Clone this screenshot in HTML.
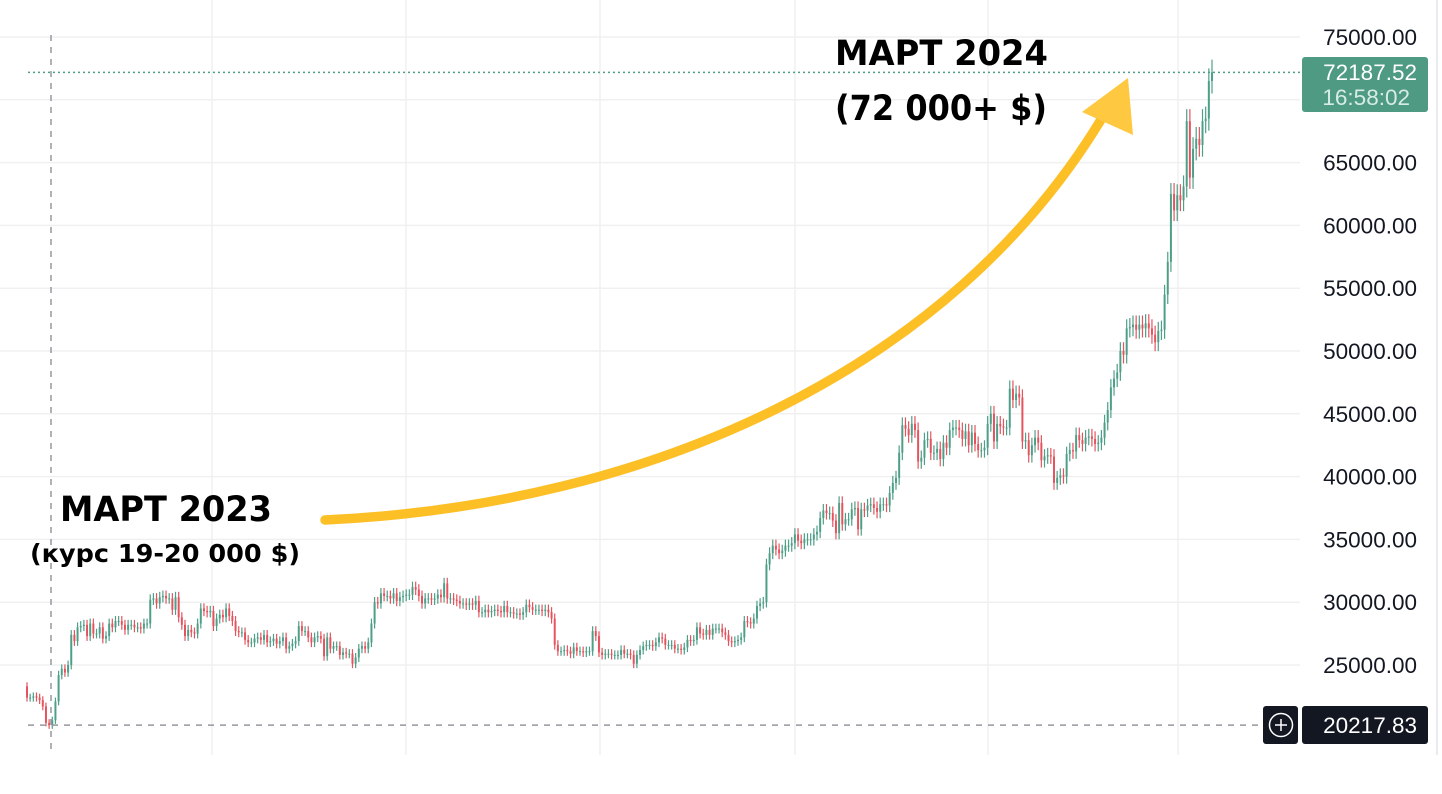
<!DOCTYPE html>
<html><head><meta charset="utf-8"><style>
html,body{margin:0;padding:0;background:#fff;}
svg{display:block;}
</style></head><body>
<svg id="chart" width="1442" height="794" viewBox="0 0 1442 794" xmlns="http://www.w3.org/2000/svg">
<g id="grid"></g>
<g id="candles"></g>
<g id="axis"></g>
<g id="overlay"></g>
</svg>
<script>
const yTicks = [25000,30000,35000,40000,45000,50000,55000,60000,65000,70000,75000];
const monthGridX = [212,406,600,795,988,1178];
const startOpen = 23300;
const closes = [
22400,22400,22500,22400,22200,21700,20400,20200,20600,22100,24200,24700,24400,25000,27400,26900,28000,28100,28200,27300,28300,27500,27500,28000,27100,27300,28300,28000,28500,
28500,28200,27800,28200,28200,28000,28000,27900,28300,28300,30200,30300,29900,30400,30500,30300,30300,29400,30400,28800,28200,27300,27800,27600,27500,28300,29500,29300,29200,29300,
28100,28700,29000,28800,29500,28900,28500,27700,27600,27600,27000,26800,26800,27100,27200,27000,27400,26800,26900,27100,26700,26900,27200,26300,26500,26700,26900,28100,27700,27700,27200,
26800,27200,27300,27100,25700,27200,26300,26500,26500,25800,26000,25900,25900,25100,25600,26300,26500,26300,26800,28300,30000,29900,30700,30500,30500,30300,30700,30100,30400,30500,
30600,30600,31200,31000,30500,29900,30300,30300,30200,30300,30600,30400,31500,30300,30300,30200,30100,29900,29900,29800,29900,29800,30100,29200,29200,29400,29200,29300,29400,29300,29200,
29700,29200,29200,29100,29100,29000,29200,29800,29600,29400,29400,29400,29300,29400,29200,28700,26600,26100,26100,26200,26100,25900,26400,26100,26100,26000,26100,26100,27700,27300,26000,
25800,25900,25900,25800,25800,25800,26200,25900,25900,25800,25100,25800,26200,26500,26600,26600,26500,26800,27200,27100,26600,26600,26600,26300,26300,26200,26400,27000,26900,27000,
28000,27500,27400,27800,27400,27900,27900,27900,27600,27400,26900,26800,26900,27000,27200,28500,28400,28300,28700,29700,29900,30000,33000,33900,34500,34200,33900,34100,34500,34500,34700,
35400,34900,34700,35000,35000,35000,35400,35600,36700,37300,37100,37100,36500,35500,37900,36200,36600,36600,37400,37500,35800,37400,37300,37700,37800,37500,37200,37800,37800,37700,
38700,39500,39900,41900,44100,43800,43300,44200,43700,41200,41500,42900,43000,41900,41900,42200,41400,42700,42300,43700,43900,43900,43700,43000,43600,42500,43500,42600,42100,42100,42300,
44200,45000,42800,44200,44000,43900,43900,47000,46100,46600,46300,42800,42900,41700,42500,43100,42700,41300,41600,41700,41600,39500,39900,40100,40000,41800,42100,42000,43300,42900,42600,
43100,43200,43000,42600,42700,43100,44300,45300,47100,47800,48300,50000,49700,51800,51900,52100,51700,52100,51800,52200,51800,51300,50700,51600,51700,54500,57100,62500,61200,
62400,62000,63100,68300,63800,66100,66900,66400,68300,68500,71500,72187.52
];
const lastPrice = "72187.52";
const lastTime = "16:58:02";
const crossPrice = 20217.83;

const NS="http://www.w3.org/2000/svg";
function el(tag, attrs, parent){const e=document.createElementNS(NS,tag);for(const k in attrs)e.setAttribute(k,attrs[k]);parent.appendChild(e);return e;}
const yScale = v => 37 + (75000 - v) / 5000 * 62.8;
const xScale = i => 27 + i * 3.16;

const grid=document.getElementById('grid');
yTicks.forEach(t=>{
  const l=el('line',{x1:0,x2:1300,y1:yScale(t),y2:yScale(t),stroke:'#f0f0f0','stroke-width':1.5},grid);
  
  
});
monthGridX.forEach(x=>{
  const l=el('line',{x1:x,x2:x,y1:0,y2:755,stroke:'#f0f0f0','stroke-width':1.5},grid);
  
  
});

const cg=document.getElementById('candles');
let prev=startOpen;
closes.forEach((c,i)=>{
  const o=prev; prev=c;
  const up=c>=o; const col=up?'#4e9f88':'#e4545f';
  const x=xScale(i);
  const hi=Math.max(o,c)*1.014, lo=Math.min(o,c)*0.986;
  const w=el('line',{x1:x,x2:x,y1:yScale(hi),y2:yScale(lo),stroke:col,'stroke-width':1.2},cg);
  
  
  const top=yScale(Math.max(o,c)), bot=yScale(Math.min(o,c));
  const b=el('rect',{x:x-1,y:top,width:2,height:Math.max(1,bot-top),fill:col},cg);
  
  
});

const ax=document.getElementById('axis');
el('line',{x1:1437,x2:1437,y1:0,y2:755,stroke:'#e0e3eb','stroke-width':1.5},ax);
yTicks.forEach(t=>{
  const tx=el('text',{x:1417,y:yScale(t)+8,'text-anchor':'end','font-family':'Liberation Sans, sans-serif','font-size':22.5,fill:'#131722'},ax);
  tx.textContent=t.toFixed(2);
  
  
});

const ov=document.getElementById('overlay');
el('line',{x1:51,x2:51,y1:35,y2:755,stroke:'#9598a1','stroke-width':1.5,'stroke-dasharray':'6 6'},ov);
const cy=yScale(crossPrice);
el('line',{x1:28,x2:1262,y1:cy,y2:cy,stroke:'#9598a1','stroke-width':1.5,'stroke-dasharray':'6 6'},ov);
const ly=yScale(72187.52);
el('line',{x1:28,x2:1300,y1:ly,y2:ly,stroke:'#4e9f88','stroke-width':1.5,'stroke-dasharray':'2 3'},ov);
const pb=el('rect',{x:1302,y:57,width:126,height:55,rx:3,fill:'#4e9a82'},ov);


const t1=el('text',{x:1417,y:80,'text-anchor':'end','font-family':'Liberation Sans, sans-serif','font-size':22.5,fill:'#fff'},ov);t1.textContent=lastPrice;
const t2=el('text',{x:1410,y:105,'text-anchor':'end','font-family':'Liberation Sans, sans-serif','font-size':22.5,fill:'#d6ece5'},ov);t2.textContent=lastTime;
const pl=el('rect',{x:1263,y:706,width:35,height:38,rx:3,fill:'#131722'},ov);


el('circle',{cx:1281,cy:725,r:11.5,fill:'none',stroke:'#fff','stroke-width':1.5},ov);
el('line',{x1:1275,x2:1287,y1:725,y2:725,stroke:'#fff','stroke-width':1.5},ov);
el('line',{x1:1281,x2:1281,y1:719,y2:731,stroke:'#fff','stroke-width':1.5},ov);
const cl=el('rect',{x:1302,y:706,width:126,height:38,rx:3,fill:'#131722'},ov);


const t3=el('text',{x:1417,y:733,'text-anchor':'end','font-family':'Liberation Sans, sans-serif','font-size':22.5,fill:'#fff'},ov);t3.textContent=crossPrice.toFixed(2);
const ar=el('path',{d:'M325,520 C650,505 950,370 1102,118',fill:'none',stroke:'#fcbf26','stroke-width':9.5,'stroke-linecap':'round'},ov);


el('polygon',{points:'1128,78 1082,112 1133,135',fill:'#fec941'},ov);
function label(txt,x,y,size,len,name){
  const t=el('text',{x:x,y:y,'font-family':'DejaVu Sans, sans-serif','font-weight':'bold','font-size':size,fill:'#000',textLength:len,lengthAdjust:'spacingAndGlyphs'},ov);
  t.textContent=txt;
  
  
}
label('МАРТ 2024',835,65,35,213,'label-march-2024');
label('(72 000+ $)',835,120,35,212,'label-price-2024');
label('МАРТ 2023',60,521,35,212,'label-march-2023');
label('(курс 19-20 000 $)',30,562,25,270,'label-price-2023');
</script>
</body></html>
